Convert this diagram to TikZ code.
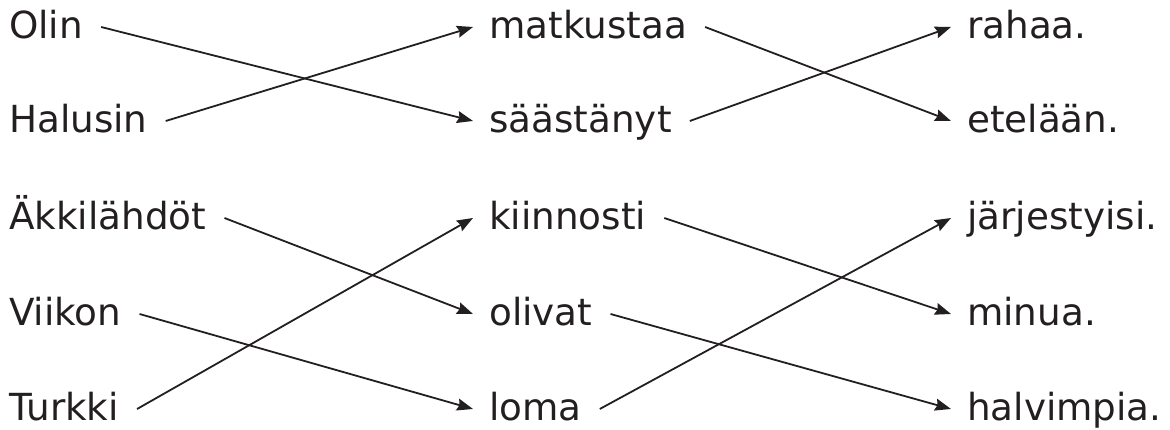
\documentclass[tikz,border=0pt]{standalone}
\usepackage{fontspec}
\setmainfont{DejaVu Sans}
\usetikzlibrary{arrows.meta,calc}
\definecolor{ink}{HTML}{231F20}
\begin{document}
\begin{tikzpicture}[x=1pt,y=1pt,
  word/.style={anchor=base west,inner sep=0pt,text=ink,font=\fontsize{37.3}{40}\selectfont},
  link/.style={draw=ink,line width=1.8pt,-{Stealth[length=16pt,width=12pt,inset=2pt]}}]
\useasboundingbox (0,0) rectangle (1170,430);
% column 1
\node[word] (a1) at (9,391) {Olin};
\node[word] (a2) at (9,297) {Halusin};
\node[word] (a3) at (9,200) {Äkkilähdöt};
\node[word] (a4) at (9,104) {Viikon};
\node[word] (a5) at (9,9) {Turkki};
% column 2
\node[word] (b1) at (489,391) {matkustaa};
\node[word] (b2) at (489,297) {säästänyt};
\node[word] (b3) at (489,200) {kiinnosti};
\node[word] (b4) at (489,104) {olivat};
\node[word] (b5) at (489,9) {loma};
% column 3
\node[word] (c1) at (967,391) {rahaa.};
\node[word] (c2) at (967,297) {etelään.};
\node[word] (c3) at (967,200) {järjestyisi.};
\node[word] (c4) at (967,104) {minua.};
\node[word] (c5) at (967,9) {halvimpia.};
% connectors
\newcommand{\conn}[2]{\draw[link] ($(#1.base east)+(18,12)$) -- ($(#2.base west)+(-16,12)$);}
\conn{a1}{b2}
\conn{a2}{b1}
\conn{a3}{b4}
\conn{a4}{b5}
\conn{a5}{b3}
\conn{b1}{c2}
\conn{b2}{c1}
\conn{b3}{c4}
\conn{b4}{c5}
\conn{b5}{c3}
\end{tikzpicture}
\end{document}
